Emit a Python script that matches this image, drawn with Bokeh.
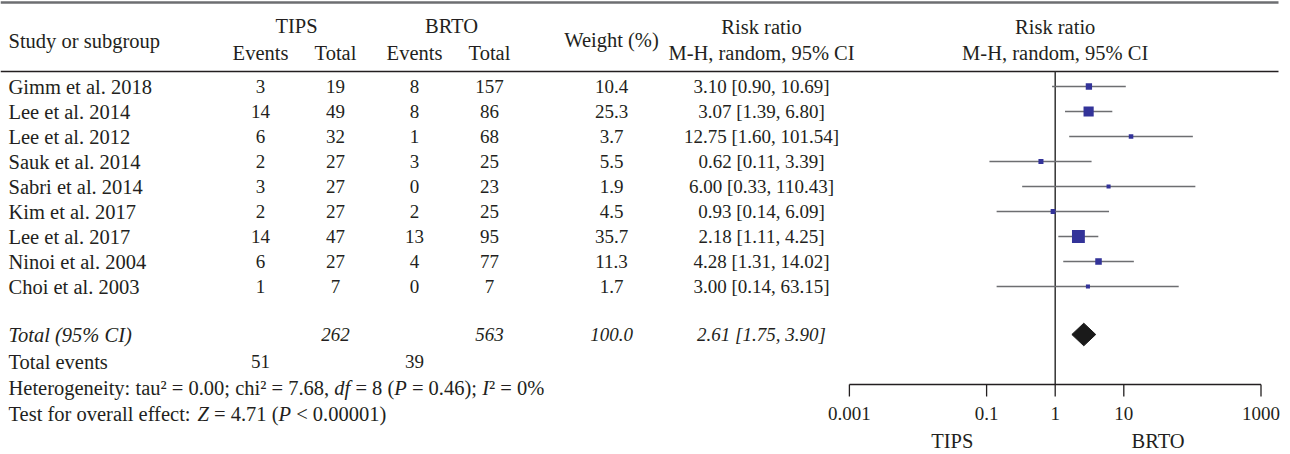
from bokeh.plotting import figure
from bokeh.models import Range1d, LogScale, ColumnDataSource
from bokeh.core.properties import value
from bokeh.embed import file_html
from bokeh.resources import INLINE

# ---------------- data ----------------
studies = ["Gimm et al. 2018", "Lee et al. 2014", "Lee et al. 2012", "Sauk et al. 2014",
           "Sabri et al. 2014", "Kim et al. 2017", "Lee et al. 2017", "Ninoi et al. 2004",
           "Choi et al. 2003"]
tips_events = [3, 14, 6, 2, 3, 2, 14, 6, 1]
tips_total = [19, 49, 32, 27, 27, 27, 47, 27, 7]
brto_events = [8, 8, 1, 3, 0, 2, 13, 4, 0]
brto_total = [157, 86, 68, 25, 23, 25, 95, 77, 7]
weights = [10.4, 25.3, 3.7, 5.5, 1.9, 4.5, 35.7, 11.3, 1.7]
rr = [3.10, 3.07, 12.75, 0.62, 6.00, 0.93, 2.18, 4.28, 3.00]
rr_lo = [0.90, 1.39, 1.60, 0.11, 0.33, 0.14, 1.11, 1.31, 0.14]
rr_hi = [10.69, 6.80, 101.54, 3.39, 110.43, 6.09, 4.25, 14.02, 63.15]

total_label = "Total (95% CI)"
total_tips = 262
total_brto = 563
total_weight = 100.0
total_rr = 2.61
total_lo = 1.75
total_hi = 3.90
events_label = "Total events"
events_tips = 51
events_brto = 39

# (text, italic)
het_pieces = [("Heterogeneity: tau\u00b2 = 0.00; chi\u00b2 = 7.68, ", False), ("df", True),
              (" = 8 (", False), ("P", True), (" = 0.46); ", False), ("I", True),
              ("\u00b2 = 0%", False)]
test_pieces = [("Test for overall effect: ", False), ("Z", True), (" = 4.71 (", False),
               ("P", True), (" < 0.00001)", False)]

axis_ticks = [0.001, 0.1, 1, 10, 1000]
axis_tick_labels = ["0.001", "0.1", "1", "10", "1000"]
favour_pos = [10 ** -1.5, 10 ** 1.5]
favour_labels = ["TIPS", "BRTO"]

# ---------------- style / layout ----------------
FONT = "Liberation Serif"
FS_T = 20.5   # word-like text
FS_N = 19     # numbers
TXT = "#231f20"
SQ = "#333399"
W, H = 1288, 450

ROMAN = {' ': 250, '!': 333, '%': 833, '(': 333, ')': 333, ',': 250, '-': 333, '.': 250,
         ':': 278, ';': 278, '<': 564, '=': 564, '[': 333, ']': 333, '\u00b2': 300,
         'A': 722, 'B': 667, 'C': 667, 'D': 722, 'E': 611, 'F': 556, 'G': 722, 'H': 722,
         'I': 333, 'J': 389, 'K': 722, 'L': 611, 'M': 889, 'N': 722, 'O': 722, 'P': 556,
         'Q': 722, 'R': 667, 'S': 556, 'T': 611, 'U': 722, 'V': 722, 'W': 944, 'X': 722,
         'Y': 722, 'Z': 611,
         'a': 444, 'b': 500, 'c': 444, 'd': 500, 'e': 444, 'f': 333, 'g': 500, 'h': 500,
         'i': 278, 'j': 278, 'k': 500, 'l': 278, 'm': 778, 'n': 500, 'o': 500, 'p': 500,
         'q': 500, 'r': 333, 's': 389, 't': 278, 'u': 500, 'v': 500, 'w': 722, 'x': 500,
         'y': 500, 'z': 444}
for d in "0123456789":
    ROMAN[d] = 500
ITALIC = {'d': 500, 'f': 278, 'P': 611, 'I': 333, 'Z': 556}


def tw(s, italic, fs):
    tab = ITALIC if italic else ROMAN
    return sum(tab.get(c, ROMAN.get(c, 500)) for c in s) * fs / 1000.0


# vertical: row units of 25 px, row 0 centred 86 px from the top
PX_ROW = 25.0
Y0 = 86.0
def R(px):
    return (px - Y0) / PX_ROW

# horizontal forest scale: 1 at x=1054.7, 68.6 px per decade
X_ONE = 1054.7
PX_DEC = 68.6
LOG_LO = -(X_ONE - 0) / PX_DEC
LOG_HI = (W - X_ONE) / PX_DEC

X_STUDY = 8
X_TE, X_TT, X_BE, X_BT = 260, 335, 414, 489
X_TIPS, X_BRTO = 296, 451
X_W = 611
X_RR = 761
X_RULE_END = 1278

p = figure(width=W, height=H, x_range=Range1d(0, W), y_range=Range1d(R(H), R(0)),
           x_axis_location=None, y_axis_location=None, toolbar_location=None,
           output_backend="svg", min_border=0, outline_line_color=None)
p.grid.visible = False
p.extra_x_ranges = {"log": Range1d(10 ** LOG_LO, 10 ** LOG_HI)}
p.extra_x_scales = {"log": LogScale()}


def txt(x, y, t, align="center", style="normal", fs=FS_T, **kw):
    p.text(x=x, y=y, text=t, text_align=align, text_baseline="middle",
           text_font=value(FONT), text_font_size=f"{fs}px", text_color=TXT,
           text_font_style=style, **kw)


# rules
p.segment(x0=[0], x1=[X_RULE_END], y0=[R(2)], y1=[R(2)], line_color="#6d6e71", line_width=2.5)
p.segment(x0=[0], x1=[X_RULE_END], y0=[R(71)], y1=[R(71)], line_color=TXT, line_width=1.5)

# header
txt([X_STUDY], [R(40)], ["Study or subgroup"], align="left")
txt([X_TIPS, X_BRTO], [R(25)] * 2, ["TIPS", "BRTO"])
txt([X_TE, X_TT, X_BE, X_BT], [R(52)] * 4, ["Events", "Total", "Events", "Total"])
txt([X_W], [R(39)], ["Weight (%)"])
txt([X_RR, X_RR], [R(26), R(52)], ["Risk ratio", "M-H, random, 95% CI"])
txt([1, 1], [R(26), R(52)], ["Risk ratio", "M-H, random, 95% CI"], x_range_name="log")

# study rows
rows = list(range(len(studies)))
src = ColumnDataSource(dict(
    y=rows, study=studies,
    te=[str(v) for v in tips_events], tt=[str(v) for v in tips_total],
    be=[str(v) for v in brto_events], bt=[str(v) for v in brto_total],
    w=[f"{v:.1f}" for v in weights],
    ci=[f"{a:.2f} [{b:.2f}, {c:.2f}]" for a, b, c in zip(rr, rr_lo, rr_hi)],
))
for col, xx, al, fs in [("study", X_STUDY, "left", FS_T), ("te", X_TE, "center", FS_N),
                        ("tt", X_TT, "center", FS_N), ("be", X_BE, "center", FS_N),
                        ("bt", X_BT, "center", FS_N), ("w", X_W, "center", FS_N),
                        ("ci", X_RR, "center", FS_N)]:
    p.text(x=xx, y="y", text=col, source=src, text_align=al, text_baseline="middle",
           text_font=value(FONT), text_font_size=f"{fs}px", text_color=TXT)

# totals
R_TOTAL = R(334)
txt([X_STUDY], [R_TOTAL], [total_label], align="left", style="italic")
txt([X_TT, X_BT, X_W, X_RR], [R_TOTAL] * 4,
    [str(total_tips), str(total_brto), f"{total_weight:.1f}",
     f"{total_rr:.2f} [{total_lo:.2f}, {total_hi:.2f}]"], style="italic", fs=FS_N)
txt([X_STUDY], [R(361)], [events_label], align="left")
txt([X_TE, X_BE], [R(361)] * 2, [str(events_tips), str(events_brto)], fs=FS_N)

# mixed roman / italic statistics lines (svg drops leading blanks, so offset them)
for pieces, yy in [(het_pieces, R(387)), (test_pieces, R(413))]:
    cx = X_STUDY
    for s, it in pieces:
        core = s.lstrip(" ")
        lead = tw(s[:len(s) - len(core)], False, FS_T)
        txt([cx + lead], [yy], [core.rstrip(" ")], align="left",
            style="italic" if it else "normal")
        cx += tw(s, it, FS_T)

# ---------------- forest ----------------
R_AXIS = R(384)
p.segment(x0=[1], y0=[R(71)], x1=[1], y1=[R_AXIS], line_color="#333333", line_width=1.5,
          x_range_name="log")

fsrc = ColumnDataSource(dict(y=rows, rr=rr, lo=rr_lo, hi=rr_hi,
                             size=[3.6 + 0.26 * w for w in weights]))
p.segment(x0="lo", y0="y", x1="hi", y1="y", source=fsrc, line_color="#6d6e71",
          line_width=1.6, x_range_name="log")
p.scatter(x="rr", y="y", size="size", marker="square", source=fsrc,
          fill_color=SQ, line_color=None, x_range_name="log")

dh = 11.3 / PX_ROW
p.patch(x=[total_lo, total_rr, total_hi, total_rr],
        y=[R_TOTAL, R_TOTAL - dh, R_TOTAL, R_TOTAL + dh],
        fill_color="#1a1a1a", line_color="#1a1a1a", line_width=1, x_range_name="log")

# axis (drawn on the log scale)
p.segment(x0=[axis_ticks[0]], x1=[axis_ticks[-1]], y0=[R_AXIS], y1=[R_AXIS],
          line_color=TXT, line_width=1.3, x_range_name="log")
p.segment(x0=axis_ticks, x1=axis_ticks, y0=[R_AXIS] * len(axis_ticks),
          y1=[R(396)] * len(axis_ticks), line_color=TXT, line_width=1.3, x_range_name="log")
txt(axis_ticks, [R(413)] * len(axis_ticks), axis_tick_labels, fs=FS_N, x_range_name="log")
txt(favour_pos, [R(440)] * 2, favour_labels, x_range_name="log")

open("out.html", "w").write(file_html(p, INLINE))
